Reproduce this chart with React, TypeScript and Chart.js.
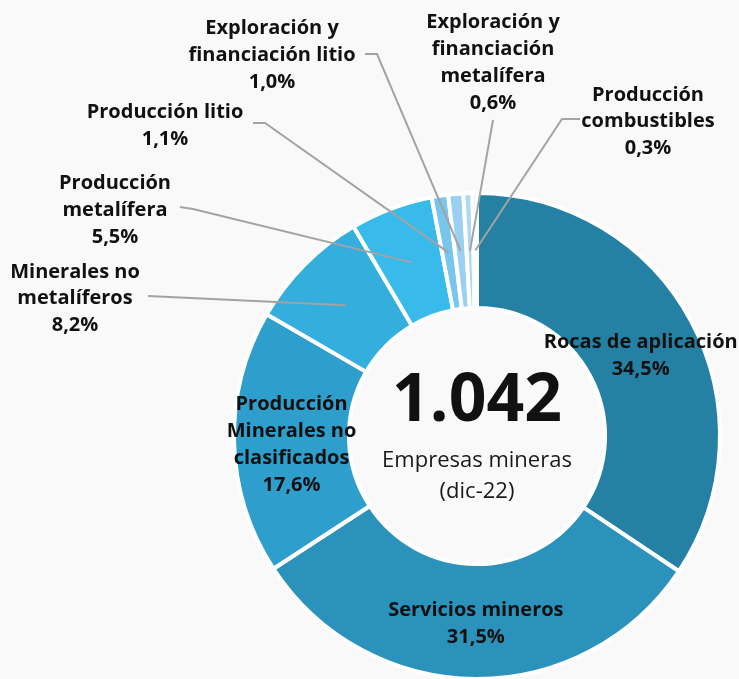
import React, { useEffect, useRef } from "react";
import { Chart, registerables } from "chart.js";

Chart.register(...registerables);

const categories = [
  "Rocas de aplicación",
  "Servicios mineros",
  "Producción Minerales no clasificados",
  "Minerales no metalíferos",
  "Producción metalífera",
  "Producción litio",
  "Exploración y financiación litio",
  "Exploración y financiación metalífera",
  "Producción combustibles",
];
const values = [34.5, 31.5, 17.6, 8.2, 5.5, 1.1, 1.0, 0.6, 0.3];
const labelLines = [
  ["Rocas de aplicación"],
  ["Servicios mineros"],
  ["Producción", "Minerales no", "clasificados"],
  ["Minerales no", "metalíferos"],
  ["Producción", "metalífera"],
  ["Producción litio"],
  ["Exploración y", "financiación litio"],
  ["Exploración y", "financiación", "metalífera"],
  ["Producción", "combustibles"],
];
const colors = [
  "#2581a4",
  "#2a92bb",
  "#2e9fcc",
  "#34aedd",
  "#38bbea",
  "#77c6ec",
  "#9bd0f0",
  "#aed9f2",
  "#c6e4f6",
];
const totalCompanies = 1042;
const centerSub = ["Empresas mineras", "(dic-22)"];

const BG = "#f9f9f9";
const FONT = "'Open Sans', 'Noto Sans', sans-serif";
const LINE_H = 27;

// External label layout: text center x, first line center y, leader polyline start points
type Ext = { x: number; y: number; lh: number; lead: [number, number][] };
const external: Record<number, Ext> = {
  3: { x: 75, y: 272, lh: 26.5, lead: [[148, 296]] },
  4: { x: 115, y: 183, lh: 27, lead: [[180, 207], [193, 209]] },
  5: { x: 165, y: 112, lh: 27, lead: [[253, 123], [265, 123]] },
  6: { x: 272, y: 28, lh: 27, lead: [[365, 54], [377, 54]] },
  7: { x: 493, y: 22, lh: 27, lead: [[493, 120]] },
  8: { x: 648, y: 95, lh: 26.5, lead: [[580, 119], [562, 119]] },
};
const innerShift: Record<number, number> = { 0: 7, 1: 2, 2: 4 };

const pct = (v: number) => v.toFixed(1).replace(".", ",") + "%";
const thousands = (n: number) => n.toString().replace(/\B(?=(\d{3})+(?!\d))/g, ".");

const labelPlugin = {
  id: "labelPlugin",
  afterDatasetsDraw(chart: any) {
    const ctx = chart.ctx;
    const meta = chart.getDatasetMeta(0);
    ctx.save();
    // leader lines
    ctx.strokeStyle = "#a3a3a3";
    ctx.lineWidth = 2;
    Object.keys(external).forEach((k) => {
      const i = Number(k);
      const arc = meta.data[i];
      const p = arc.tooltipPosition();
      const e = external[i];
      ctx.beginPath();
      ctx.moveTo(e.lead[0][0], e.lead[0][1]);
      for (let j = 1; j < e.lead.length; j++) ctx.lineTo(e.lead[j][0], e.lead[j][1]);
      ctx.lineTo(p.x, p.y);
      ctx.stroke();
    });
    // labels
    ctx.fillStyle = "#111";
    ctx.textAlign = "center";
    ctx.textBaseline = "middle";
    ctx.font = `bold 20px ${FONT}`;
    values.forEach((v, i) => {
      const lines = [...labelLines[i], pct(v)];
      if (external[i]) {
        const e = external[i];
        lines.forEach((t, j) => ctx.fillText(t, e.x, e.y + j * e.lh));
      } else {
        const p = meta.data[i].tooltipPosition();
        const start = p.y + (innerShift[i] || 0) - ((lines.length - 1) * LINE_H) / 2;
        lines.forEach((t, j) => ctx.fillText(t, p.x, start + j * LINE_H));
      }
    });
    // center text
    const arc0 = meta.data[0];
    const cx = arc0.x;
    const cy = arc0.y;
    ctx.font = `bold 66px ${FONT}`;
    ctx.fillText(thousands(totalCompanies), cx, cy - 34);
    ctx.font = `22px ${FONT}`;
    ctx.fillStyle = "#1a1a1a";
    centerSub.forEach((t, j) => ctx.fillText(t, cx, cy + 25 + j * 31));
    ctx.restore();
  },
};

export default function App() {
  const ref = useRef<HTMLCanvasElement | null>(null);
  useEffect(() => {
    document.body.style.margin = "0";
    document.body.style.background = BG;
    const chart = new Chart(ref.current as HTMLCanvasElement, {
      type: "doughnut",
      data: {
        labels: categories,
        datasets: [
          {
            data: values,
            backgroundColor: colors,
            borderColor: "#ffffff",
            borderWidth: 4,
          },
        ],
      },
      options: {
        animation: false,
        responsive: false,
        radius: 243,
        cutout: 127,
        layout: { padding: { left: 215, right: 0, top: 193, bottom: 0 } },
        plugins: {
          legend: { display: false },
          tooltip: { enabled: false },
        },
      } as any,
      plugins: [labelPlugin],
    });
    return () => chart.destroy();
  }, []);
  return (
    <div style={{ position: "absolute", left: 0, top: 0, width: 739, height: 679, background: BG }}>
      <canvas ref={ref} width={739} height={679} style={{ width: 739, height: 679 }} />
    </div>
  );
}
